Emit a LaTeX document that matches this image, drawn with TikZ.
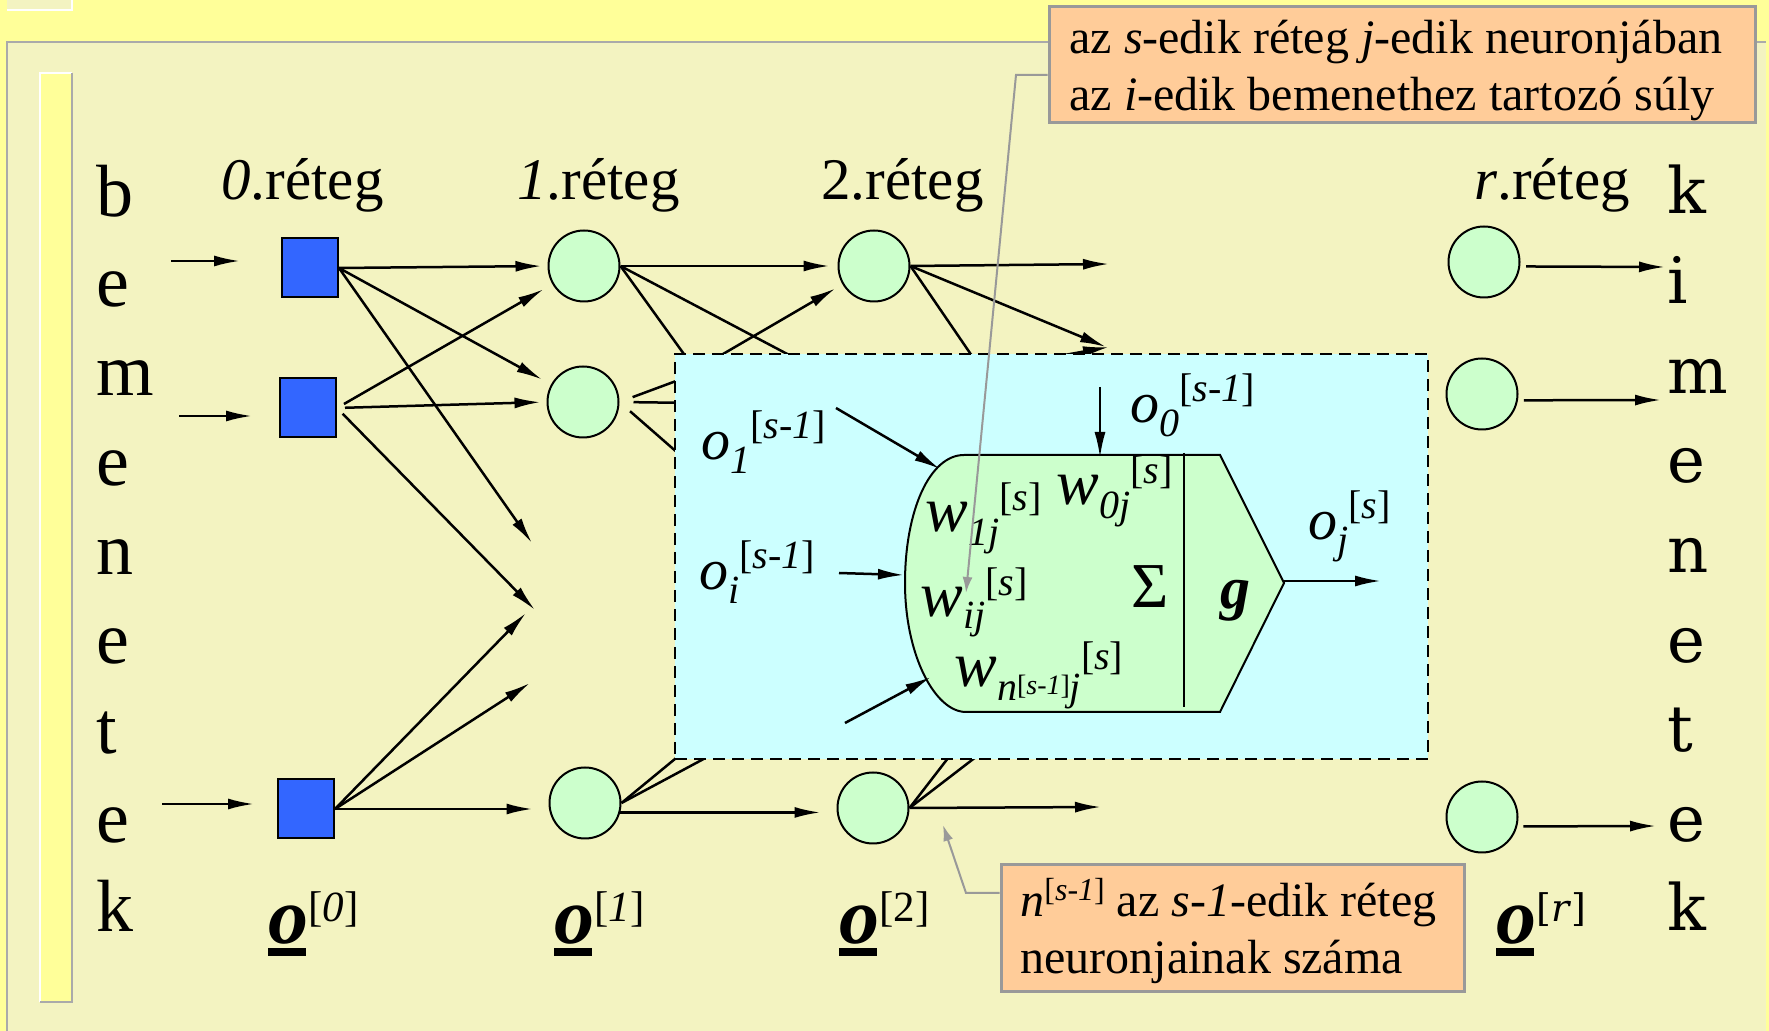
\documentclass[tikz,border=0pt]{standalone}
\usepackage{fontspec}
\setmainfont{Liberation Serif}
\newfontfamily\dvs{DejaVu Serif}
\usetikzlibrary{arrows.meta}
\definecolor{bandyel}{HTML}{FFFF99}
\definecolor{panelyel}{HTML}{F3F3C1}
\definecolor{sqblue}{HTML}{3366FF}
\definecolor{neugreen}{HTML}{CCFFCC}
\definecolor{boxcyan}{HTML}{CCFFFF}
\definecolor{calloutor}{HTML}{FFCC99}
\definecolor{calgray}{HTML}{999999}
\definecolor{edgegray}{HTML}{AAAAAA}
\newcommand\Lsb[1]{\raisebox{-7pt}{\fontsize{20}{20}\selectfont #1}}
\newcommand\Lsbh[1]{\raisebox{-6pt}{\fontsize{20}{20}\selectfont #1}}
\newcommand\Lsp[1]{\raisebox{10.5pt}{\fontsize{20}{20}\selectfont #1}}
\newcommand\Lspl[1]{\raisebox{8.5pt}{\fontsize{20}{20}\selectfont #1}}
\newcommand\ulo{\rlap{\rule[-6.5pt]{19pt}{4pt}}\textbf{\textit{o}}}
\begin{document}
\begin{tikzpicture}[x=0.5pt,y=-0.5pt,
  neuron/.style={circle, draw, line width=1pt, fill=neugreen, minimum size=35.5pt, inner sep=0pt},
  inbox/.style={rectangle, draw, line width=1pt, fill=sqblue, minimum width=28pt, minimum height=29.5pt, inner sep=0pt},
  link/.style={line width=1.25pt},
  arr/.style={line width=1.25pt, -{Latex[length=13pt,width=5.5pt]}},
  garr/.style={calgray, line width=1pt, -{Latex[length=8pt,width=5pt]}},
  txt/.style={inner sep=0pt, anchor=base west},
  layerlab/.style={txt, font=\fontsize{29.5}{30}\selectfont},
  outlab/.style={txt, font=\fontsize{40}{40}\selectfont},
  olab/.style={txt, font=\fontsize{29}{30}\selectfont},
  wlab/.style={txt, font=\fontsize{32}{32}\selectfont},
  caltxt/.style={txt, font=\fontsize{24}{28}\selectfont},
  calbox/.style={rectangle, draw=calgray, fill=calloutor, line width=1.5pt, inner sep=0pt}
]
% backgrounds
\fill[bandyel] (0,0) rectangle (1769,1031);
\useasboundingbox (0,0) rectangle (1769,1031);
\fill[panelyel] (7,0) rectangle (72,10);
\draw[white, line width=1pt] (7,10) -- (72,10) -- (72,0);
\fill[panelyel] (7,42) rectangle (1766,1031);
\draw[edgegray, line width=1.2pt] (7,1031) -- (7,42) -- (1766,42);
\fill[bandyel] (40,73) rectangle (72,1002);
\draw[white, line width=1.2pt] (40,1002) -- (40,73) -- (72,73);
\draw[edgegray, line width=1.2pt] (72,73) -- (72,1002) -- (40,1002);

% side words
\foreach \ch [count=\i from 0] in {b,e,m,e,n,e,t,e,k}
  \node[txt, font=\fontsize{37}{37}\selectfont] (bl\i) at (96,{217+\i*89.375}) {\ch};
\foreach \ch [count=\i from 0] in {k,i,m,e,n,e,t,e,k}
  \node[txt, font=\dvs\fontsize{32}{32}\selectfont] (kr\i) at (1667,{214+\i*89.625}) {\ch};

% layer titles
\node[layerlab] (t0) at (221,200) {\textit{0}.réteg};
\node[layerlab] (t1) at (517,200) {\textit{1}.réteg};
\node[layerlab] (t2) at (821,200) {2.réteg};
\node[layerlab] (tr) at (1474,200) {\textit{r}.réteg};

% bottom output vectors
\node[outlab] (ob0) at (268,943) {\ulo\raisebox{10.5pt}{\fontsize{21.5}{22}\selectfont[\textit{0}]}};
\node[outlab] (ob1) at (554,943) {\ulo\raisebox{10.5pt}{\fontsize{21.5}{22}\selectfont[\textit{1}]}};
\node[outlab] (ob2) at (839,943) {\ulo\raisebox{10.5pt}{\fontsize{21.5}{22}\selectfont[2]}};
\node[outlab] (obr) at (1496,943) {\ulo\raisebox{10.5pt}{\dvs\fontsize{19}{22}\selectfont[\textit{r}]}};

% nodes
\node[inbox] (s0a) at (310,268) {};
\node[inbox] (s0b) at (308,408) {};
\node[inbox] (s0c) at (306,809) {};
\node[neuron] (l1a) at (584,266) {};
\node[neuron] (l1b) at (583,402) {};
\node[neuron] (l1c) at (585,803) {};
\node[neuron] (l2a) at (874,266) {};
\node[neuron] (l2c) at (873,808) {};
\node[neuron] (lra) at (1484,262) {};
\node[neuron] (lrb) at (1482,394) {};
\node[neuron] (lrc) at (1482,817) {};

% free ends
\coordinate (ia0) at (171,261); \coordinate (ia1) at (240,261);
\coordinate (ib0) at (179,416); \coordinate (ib1) at (252,416);
\coordinate (ic0) at (162,804); \coordinate (ic1) at (254,804);
\coordinate (ga) at (532,543); \coordinate (gb) at (535,610);
\coordinate (gc) at (526,613); \coordinate (gd) at (530,683);
\coordinate (h1) at (699,375); \coordinate (h2) at (827,375);
\coordinate (h3) at (687,375);
\coordinate (h4) at (695,374); \coordinate (h5) at (695,403); \coordinate (h6) at (695,468);
\coordinate (h7) at (698,740); \coordinate (h8) at (739,740);
\coordinate (h9) at (985,375); \coordinate (h10) at (954,375);
\coordinate (h11) at (962,740); \coordinate (h12) at (998,740);
\coordinate (o1) at (1109,264); \coordinate (o2) at (1106,347);
\coordinate (o3) at (1101,807);
\coordinate (ok1) at (1665,267); \coordinate (ok2) at (1661,400); \coordinate (ok3) at (1656,826);

% inputs
\draw[arr] (ia0) -- (ia1);
\draw[arr] (ib0) -- (ib1);
\draw[arr] (ic0) -- (ic1);

% layer 0 -> 1
\draw[arr, shorten >=3pt] (s0a.east) -- (l1a.west);
\draw[arr, shorten >=5pt] (s0a.east) -- (l1b);
\draw[arr] (s0a.east) -- (ga);
\draw[arr, shorten <=4pt, shorten >=5pt] (s0b.east) -- (l1a);
\draw[arr, shorten <=4pt, shorten >=3pt] (s0b.east) -- (l1b.west);
\draw[arr, shorten <=4pt] (s0b.east) -- (gb);
\draw[arr, shorten >=8pt] (s0c.east) -- (s0c.east -| l1c.west);
\draw[arr] (s0c.east) -- (gc);
\draw[arr] (s0c.east) -- (gd);

% layer 1 -> 2
\draw[arr, shorten >=4pt] (l1a.east) -- (l2a.west);
\draw[link] (l1a.east) -- (h1);
\draw[link] (l1a.east) -- (h2);
\draw[arr, shorten >=4pt] (h3) -- (l2a);
\draw[link, shorten <=7pt] (l1b.east) -- (h4);
\draw[link, shorten <=7pt] (l1b.east) -- (h5);
\draw[link, shorten <=7pt] (l1b.east) -- (h6);
\draw[link] (l1c.east) -- (h7);
\draw[link] (l1c.east) -- (h8);
\draw[arr, shorten >=8pt] (l1c.-15) -- (l1c.-15 -| l2c.west);

% layer 2 ->
\draw[arr] (l2a.east) -- (o1);
\draw[arr] (l2a.east) -- (o2);
\draw[link] (l2a.east) -- (h9);
\draw[arr] (h10) -- (o2 -| o1) ;
\draw[link] (l2c.east) -- (h11);
\draw[link] (l2c.east) -- (h12);
\draw[arr] (l2c.east) -- (o3);

% layer r outputs
\draw[arr, shorten <=3pt] (lra.-7) -- (ok1);
\draw[arr, shorten <=3pt] (lrb.-10) -- (ok2);
\draw[arr, shorten <=3pt] (lrc.-15) -- (ok3);

% zoom box
\node[rectangle, draw, fill=boxcyan, dash pattern=on 6pt off 3.5pt, line width=1pt,
      minimum width=376.5pt, minimum height=202.5pt, inner sep=0pt] (zbox) at (1051.5,556.5) {};

% neuron shape
\draw[fill=neugreen, line width=1pt]
  (964,455) -- (1220,455) -- (1284,583) -- (1220,712) -- (966,712)
  .. controls (935,712) and (905,655) .. (905,583)
  .. controls (905,510) and (930,455) .. (964,455) -- cycle;
\draw[line width=1pt] (1184,453) -- (1184,707);

% inner arrows
\coordinate (a1s) at (836,408); \coordinate (a1e) at (940,469);
\coordinate (a0s) at (1100,387); \coordinate (a0e) at (1100,458);
\coordinate (ais) at (839,573); \coordinate (aie) at (904,575);
\coordinate (ans) at (845,723); \coordinate (ane) at (931,677);
\coordinate (outs) at (1284,581); \coordinate (oute) at (1381,581);
\draw[arr] (a1s) -- (a1e);
\draw[arr] (a0s) -- (a0e);
\draw[arr] (ais) -- (aie);
\draw[arr] (ans) -- (ane);
\draw[arr] (outs) -- (oute);

% inner labels
\node[olab] (lo1) at (701,460) {\textit{o}\Lsb{\textit{1}}\Lsp{[\textit{s}-\textit{1}]}};
\node[olab] (loi) at (699,590) {\textit{o}\Lsb{\textit{i}}\Lsp{[\textit{s}-\textit{1}]}};
\node[olab] (lo0) at (1130,423) {\textit{o}\Lsb{\textit{0}}\Lsp{[\textit{s}-\textit{1}]}};
\node[olab] (loj) at (1308,540) {\textit{o}\Lsb{\textit{j}}\Lsp{[\textit{s}]}};
\node[wlab] (lw1) at (925,532) {\textit{w}\Lsb{\textit{1j}}\Lsp{[\textit{s}]}};
\node[wlab] (lw0) at (1056,505) {\textit{w}\Lsb{\textit{0j}}\Lsp{[\textit{s}]}};
\node[wlab] (lwi) at (920,617) {\textit{w}\Lsbh{\textit{ij}}\Lsp{[\textit{s}]}};
\node[wlab] (lwn) at (954,687) {\textit{w}\Lsb{\textit{n}\raisebox{3pt}{\fontsize{14}{14}\selectfont[\textit{s}-\textit{1}]}\textit{j}}\Lspl{[\textit{s}]}};
\node[inner sep=0pt, anchor=base, font=\fontsize{32}{32}\selectfont] (lsum) at (1150,608) {Σ};
\node[inner sep=0pt, anchor=base, font=\fontsize{30}{30}\selectfont] (lg) at (1235,609) {\textbf{\textit{g}}};

% callouts
\node[calbox, minimum width=353pt, minimum height=58pt] (c1) at (1402,65) {};
\node[caltxt] (c1a) at (1069,54) {az \textit{s}-edik réteg \textit{j}-edik neuronjában};
\node[caltxt] (c1b) at (1069,111) {az \textit{i}-edik bemenethez tartozó súly};
\node[calbox, minimum width=231.5pt, minimum height=63.5pt] (c2) at (1232.5,928.5) {};
\node[caltxt] (c2a) at (1020,917) {\textit{n}\raisebox{8pt}{\fontsize{16}{16}\selectfont[\textit{s}-\textit{1}]} az \textit{s}-\textit{1}-edik réteg};
\node[caltxt] (c2b) at (1020,973) {neuronjainak száma};

\coordinate (k1) at (1016,75); \coordinate (tip1) at (966,593);
\coordinate (k2) at (966,893); \coordinate (tip2) at (943,825);
\draw[garr] ([yshift=-5pt]c1.west) -- (k1) -- (tip1);
\draw[garr] ([yshift=17.75pt]c2.west) -- (k2) -- (tip2);
\end{tikzpicture}
\end{document}
